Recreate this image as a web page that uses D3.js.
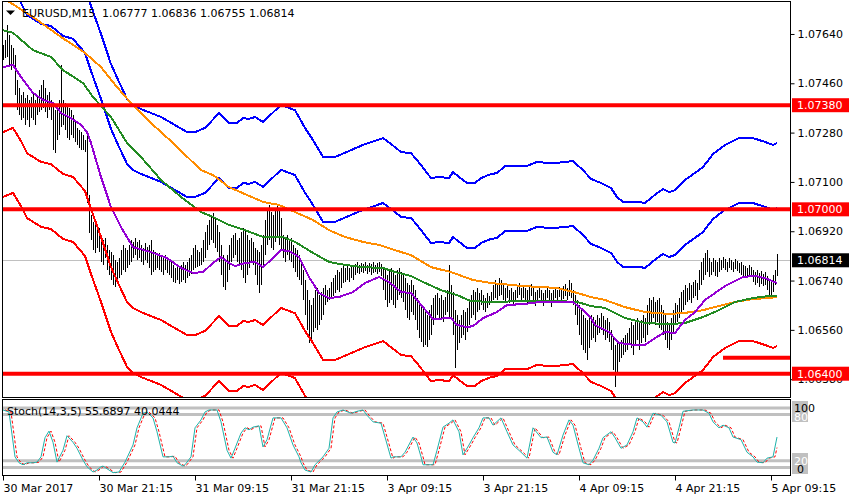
<!DOCTYPE html>
<html><head><meta charset="utf-8">
<script src="https://cdn.jsdelivr.net/npm/d3@7"></script>
<style>
body{margin:0;background:#fff}
svg{display:block}
text{font-family:"DejaVu Sans",sans-serif;font-size:11px}
</style>
</head><body>
<svg id="c" width="850" height="500"></svg>
<script>
// ---------------- DATA ----------------
const symbolTitle = "EURUSD,M15";
const ohlcTitle = "1.06777 1.06836 1.06755 1.06814";
const stochTitle = "Stoch(14,3,5) 55.6897 40.0444";
const priceTicks = [1.07640, 1.07460, 1.07280, 1.07100, 1.06920, 1.06740, 1.06560, 1.06380];
const timeLabels = ["30 Mar 2017","30 Mar 21:15","31 Mar 09:15","31 Mar 21:15","3 Apr 09:15","3 Apr 21:15","4 Apr 09:15","4 Apr 21:15","5 Apr 09:15"];
const timeLabelBars = [0, 48, 96, 144, 192, 240, 288, 336, 384];
const levelPrices = [1.07380, 1.07000, 1.06400];
const shortLevel = [360, 1.06458];   // [start bar, price]
const lastPrice = 1.06814;

const barHigh = [
1.07600,1.07618,1.07673,1.07636,1.07600,1.07589,1.07563,1.07472,1.07443,1.07417,
1.07428,1.07406,1.07417,1.07399,1.07410,1.07425,1.07399,1.07414,1.07435,1.07454,
1.07472,1.07443,1.07417,1.07428,1.07399,1.07381,1.07362,1.07370,1.07399,1.07527,
1.07399,1.07388,1.07381,1.07370,1.07362,1.07344,1.07326,1.07297,1.07289,1.07282,
1.07271,1.07253,1.07279,1.07052,1.06979,1.06954,1.06943,1.06924,1.06932,1.06906,
1.06888,1.06895,1.06870,1.06851,1.06844,1.06833,1.06815,1.06808,1.06822,1.06851,
1.06870,1.06859,1.06851,1.06870,1.06888,1.06881,1.06895,1.06881,1.06888,1.06870,
1.06859,1.06877,1.06862,1.06870,1.06888,1.06851,1.06844,1.06833,1.06841,1.06830,
1.06822,1.06833,1.06822,1.06815,1.06808,1.06797,1.06786,1.06793,1.06786,1.06797,
1.06808,1.06797,1.06808,1.06822,1.06833,1.06859,1.06870,1.06851,1.06844,1.06859,
1.06888,1.06917,1.06943,1.06961,1.06979,1.06987,1.06968,1.06943,1.06917,1.06870,
1.06833,1.06815,1.06833,1.06870,1.06895,1.06906,1.06914,1.06888,1.06895,1.06917,
1.06932,1.06924,1.06906,1.06888,1.06895,1.06881,1.06859,1.06851,1.06844,1.06870,
1.06906,1.06961,1.06997,1.07016,1.06990,1.06979,1.07005,1.07016,1.06997,1.06968,
1.06906,1.06895,1.06906,1.06888,1.06895,1.06870,1.06859,1.06851,1.06833,1.06815,
1.06778,1.06742,1.06705,1.06669,1.06651,1.06676,1.06705,1.06713,1.06687,1.06698,
1.06713,1.06724,1.06705,1.06713,1.06735,1.06749,1.06760,1.06778,1.06771,1.06786,
1.06793,1.06786,1.06793,1.06786,1.06797,1.06789,1.06800,1.06808,1.06797,1.06804,
1.06800,1.06808,1.06797,1.06804,1.06800,1.06808,1.06797,1.06804,1.06808,1.06800,
1.06786,1.06778,1.06760,1.06778,1.06786,1.06771,1.06760,1.06778,1.06786,1.06771,
1.06760,1.06749,1.06731,1.06724,1.06742,1.06724,1.06705,1.06676,1.06662,1.06651,
1.06640,1.06625,1.06614,1.06632,1.06651,1.06676,1.06687,1.06695,1.06676,1.06687,
1.06669,1.06680,1.06705,1.06797,1.06724,1.06698,1.06632,1.06614,1.06596,1.06614,
1.06632,1.06625,1.06640,1.06669,1.06687,1.06705,1.06698,1.06713,1.06695,1.06705,
1.06687,1.06676,1.06695,1.06684,1.06698,1.06724,1.06742,1.06731,1.06749,1.06742,
1.06724,1.06713,1.06724,1.06705,1.06713,1.06698,1.06705,1.06720,1.06731,1.06713,
1.06724,1.06713,1.06705,1.06720,1.06727,1.06713,1.06698,1.06705,1.06716,1.06705,
1.06695,1.06705,1.06716,1.06705,1.06695,1.06705,1.06713,1.06705,1.06716,1.06709,
1.06720,1.06727,1.06713,1.06742,1.06731,1.06705,1.06687,1.06669,1.06651,1.06632,
1.06614,1.06603,1.06596,1.06603,1.06614,1.06607,1.06596,1.06614,1.06603,1.06622,
1.06611,1.06596,1.06603,1.06589,1.06559,1.06530,1.06505,1.06523,1.06516,1.06523,
1.06530,1.06541,1.06549,1.06567,1.06589,1.06578,1.06596,1.06603,1.06589,1.06596,
1.06614,1.06603,1.06651,1.06676,1.06669,1.06680,1.06662,1.06669,1.06676,1.06651,
1.06632,1.06614,1.06589,1.06578,1.06603,1.06632,1.06658,1.06651,1.06676,1.06698,
1.06705,1.06724,1.06713,1.06731,1.06724,1.06735,1.06742,1.06731,1.06778,1.06808,
1.06822,1.06841,1.06851,1.06822,1.06808,1.06822,1.06815,1.06808,1.06822,1.06815,
1.06826,1.06819,1.06808,1.06822,1.06815,1.06808,1.06819,1.06811,1.06804,1.06808,
1.06797,1.06793,1.06786,1.06797,1.06789,1.06778,1.06771,1.06778,1.06768,1.06775,
1.06764,1.06771,1.06757,1.06742,1.06735,1.06760,1.06778,1.06836];

const barLow = [
1.07545,1.07552,1.07556,1.07527,1.07508,1.07516,1.07417,1.07362,1.07344,1.07326,
1.07333,1.07308,1.07326,1.07300,1.07333,1.07326,1.07308,1.07344,1.07355,1.07362,
1.07370,1.07355,1.07333,1.07362,1.07326,1.07216,1.07206,1.07253,1.07271,1.07300,
1.07308,1.07289,1.07260,1.07253,1.07271,1.07260,1.07246,1.07235,1.07224,1.07216,
1.07216,1.07209,1.07023,1.06914,1.06888,1.06851,1.06841,1.06859,1.06844,1.06808,
1.06797,1.06822,1.06778,1.06760,1.06742,1.06724,1.06716,1.06735,1.06749,1.06760,
1.06778,1.06771,1.06786,1.06797,1.06808,1.06822,1.06833,1.06815,1.06822,1.06808,
1.06797,1.06815,1.06804,1.06786,1.06760,1.06771,1.06778,1.06786,1.06778,1.06771,
1.06760,1.06778,1.06768,1.06760,1.06749,1.06735,1.06731,1.06742,1.06727,1.06735,
1.06742,1.06731,1.06749,1.06757,1.06764,1.06778,1.06786,1.06789,1.06793,1.06797,
1.06808,1.06822,1.06851,1.06870,1.06888,1.06877,1.06859,1.06844,1.06808,1.06760,
1.06716,1.06705,1.06735,1.06778,1.06808,1.06822,1.06833,1.06808,1.06797,1.06778,
1.06749,1.06731,1.06760,1.06786,1.06808,1.06797,1.06760,1.06724,1.06695,1.06724,
1.06786,1.06833,1.06870,1.06888,1.06859,1.06851,1.06881,1.06895,1.06870,1.06851,
1.06822,1.06808,1.06833,1.06815,1.06808,1.06786,1.06771,1.06753,1.06742,1.06724,
1.06669,1.06614,1.06559,1.06512,1.06523,1.06552,1.06567,1.06559,1.06578,1.06596,
1.06614,1.06651,1.06662,1.06669,1.06676,1.06684,1.06695,1.06705,1.06698,1.06713,
1.06731,1.06735,1.06742,1.06735,1.06749,1.06742,1.06760,1.06768,1.06764,1.06771,
1.06768,1.06775,1.06764,1.06771,1.06760,1.06768,1.06771,1.06764,1.06771,1.06757,
1.06705,1.06669,1.06643,1.06658,1.06669,1.06651,1.06640,1.06669,1.06687,1.06676,
1.06662,1.06632,1.06603,1.06596,1.06625,1.06614,1.06596,1.06559,1.06530,1.06516,
1.06497,1.06505,1.06497,1.06523,1.06541,1.06578,1.06603,1.06614,1.06596,1.06603,
1.06589,1.06614,1.06625,1.06607,1.06596,1.06541,1.06421,1.06486,1.06512,1.06530,
1.06541,1.06523,1.06552,1.06578,1.06603,1.06614,1.06596,1.06625,1.06632,1.06651,
1.06632,1.06625,1.06640,1.06651,1.06662,1.06669,1.06676,1.06669,1.06684,1.06687,
1.06669,1.06662,1.06676,1.06658,1.06669,1.06651,1.06662,1.06676,1.06687,1.06669,
1.06676,1.06662,1.06651,1.06669,1.06684,1.06669,1.06647,1.06658,1.06676,1.06662,
1.06647,1.06669,1.06676,1.06658,1.06643,1.06662,1.06676,1.06669,1.06680,1.06665,
1.06673,1.06684,1.06669,1.06684,1.06676,1.06651,1.06614,1.06578,1.06541,1.06505,
1.06486,1.06476,1.06450,1.06494,1.06523,1.06530,1.06516,1.06541,1.06549,1.06559,
1.06541,1.06523,1.06530,1.06516,1.06486,1.06413,1.06351,1.06395,1.06443,1.06457,
1.06468,1.06479,1.06486,1.06505,1.06494,1.06468,1.06505,1.06523,1.06486,1.06512,
1.06530,1.06516,1.06541,1.06578,1.06589,1.06603,1.06578,1.06589,1.06567,1.06559,
1.06541,1.06523,1.06494,1.06486,1.06523,1.06552,1.06578,1.06589,1.06603,1.06622,
1.06632,1.06651,1.06662,1.06669,1.06658,1.06676,1.06684,1.06669,1.06705,1.06724,
1.06742,1.06760,1.06771,1.06753,1.06760,1.06771,1.06757,1.06753,1.06771,1.06778,
1.06786,1.06778,1.06771,1.06786,1.06778,1.06771,1.06782,1.06775,1.06768,1.06760,
1.06753,1.06757,1.06749,1.06760,1.06753,1.06735,1.06724,1.06731,1.06716,1.06727,
1.06720,1.06724,1.06705,1.06684,1.06680,1.06698,1.06724,1.06755];

// moving averages: [bar index, price]
const orangeMA = [[0,1.07771],[4,1.07753],[15,1.07702],[29,1.07629],[41,1.07571],[49,1.07519],[57,1.07446],[64,1.07388],[74,1.07315],[85,1.07242],[99,1.07143],[105,1.07125],[113,1.07081],[130,1.07027],[138,1.07016],[146,1.06990],[155,1.06961],[163,1.06924],[171,1.06899],[180,1.06881],[188,1.06870],[196,1.06851],[204,1.06833],[214,1.06789],[224,1.06771],[235,1.06742],[244,1.06731],[260,1.06720],[277,1.06713],[287,1.06695],[294,1.06680],[301,1.06669],[311,1.06643],[321,1.06625],[333,1.06618],[341,1.06622],[350,1.06632],[358,1.06647],[366,1.06662],[375,1.06673],[383,1.06676],[387,1.06680]];
const greenMA = [[0,1.07654],[5,1.07644],[15,1.07581],[24,1.07556],[30,1.07508],[40,1.07461],[45,1.07410],[54,1.07337],[62,1.07242],[69,1.07191],[79,1.07107],[89,1.07045],[99,1.06990],[105,1.06972],[113,1.06943],[121,1.06924],[130,1.06899],[140,1.06899],[146,1.06881],[155,1.06841],[163,1.06808],[171,1.06797],[180,1.06789],[190,1.06786],[196,1.06771],[204,1.06757],[210,1.06735],[219,1.06705],[227,1.06687],[234,1.06665],[244,1.06662],[260,1.06665],[277,1.06665],[287,1.06662],[294,1.06647],[301,1.06640],[311,1.06603],[321,1.06585],[333,1.06581],[341,1.06585],[350,1.06607],[358,1.06632],[366,1.06662],[375,1.06676],[383,1.06684],[387,1.06684]];
const purpleMA = [[0,1.07519],[5,1.07527],[9,1.07483],[15,1.07425],[20,1.07399],[25,1.07388],[29,1.07352],[34,1.07333],[39,1.07308],[42,1.07282],[44,1.07242],[49,1.07118],[54,1.07008],[59,1.06935],[65,1.06862],[74,1.06844],[82,1.06822],[89,1.06786],[95,1.06768],[100,1.06771],[105,1.06804],[109,1.06826],[113,1.06804],[116,1.06793],[121,1.06804],[126,1.06808],[130,1.06789],[135,1.06822],[139,1.06851],[143,1.06848],[148,1.06826],[153,1.06753],[158,1.06695],[163,1.06676],[168,1.06680],[175,1.06698],[181,1.06731],[188,1.06753],[193,1.06735],[199,1.06698],[204,1.06695],[210,1.06643],[215,1.06600],[224,1.06603],[227,1.06578],[232,1.06570],[235,1.06574],[240,1.06603],[247,1.06625],[252,1.06651],[260,1.06654],[269,1.06662],[277,1.06662],[285,1.06662],[290,1.06632],[294,1.06603],[296,1.06578],[303,1.06552],[308,1.06512],[316,1.06505],[321,1.06505],[326,1.06530],[331,1.06552],[336,1.06549],[341,1.06596],[346,1.06625],[351,1.06669],[361,1.06720],[370,1.06753],[376,1.06757],[381,1.06749],[387,1.06731]];
// envelope centre line and deviations (price)
const envelopeBase = [[0,1.07534],[5,1.07549],[9,1.07501],[12,1.07457],[19,1.07425],[24,1.07417],[30,1.07381],[35,1.07370],[41,1.07319],[44,1.07253],[49,1.07151],[54,1.07041],[58,1.06976],[62,1.06914],[65,1.06892],[69,1.06877],[79,1.06848],[92,1.06793],[96,1.06793],[101,1.06808],[108,1.06862],[113,1.06826],[117,1.06826],[120,1.06844],[123,1.06841],[126,1.06848],[130,1.06830],[139,1.06892],[146,1.06873],[151,1.06808],[155,1.06764],[160,1.06702],[166,1.06702],[180,1.06746],[190,1.06771],[196,1.06738],[199,1.06720],[204,1.06716],[207,1.06691],[214,1.06625],[218,1.06629],[223,1.06625],[225,1.06647],[230,1.06618],[232,1.06607],[236,1.06607],[239,1.06625],[244,1.06640],[247,1.06643],[251,1.06669],[262,1.06669],[267,1.06684],[273,1.06680],[276,1.06680],[285,1.06687],[290,1.06654],[294,1.06622],[299,1.06607],[304,1.06589],[307,1.06556],[310,1.06538],[318,1.06538],[321,1.06534],[327,1.06570],[330,1.06585],[333,1.06574],[336,1.06581],[341,1.06618],[350,1.06665],[355,1.06713],[361,1.06746],[368,1.06771],[375,1.06771],[381,1.06757],[385,1.06746],[387,1.06753]];
const envInner = 0.00252;
const envOuter = 0.00489;

// stochastic %K: [bar index, value]
const stochK = [[0,97],[3,94],[6,26],[8,17],[10,14],[12,17],[15,17],[17,18],[19,26],[21,55],[23,65],[25,48],[27,18],[30,36],[32,58],[35,48],[37,39],[40,21],[42,11],[45,3],[47,6],[49,11],[50,12],[53,6],[55,2],[58,3],[61,18],[65,44],[67,70],[70,92],[72,94],[75,85],[77,64],[80,26],[83,26],[85,27],[87,17],[90,12],[91,14],[94,26],[96,70],[99,82],[101,94],[103,97],[105,97],[107,97],[109,79],[112,36],[114,24],[116,39],[119,62],[121,70],[123,67],[125,71],[128,73],[130,41],[132,52],[135,85],[139,85],[142,70],[145,44],[148,26],[149,17],[151,6],[154,3],[156,14],[160,26],[163,39],[165,85],[167,94],[170,97],[174,92],[177,95],[180,97],[182,89],[185,79],[189,77],[191,56],[194,24],[195,26],[199,26],[201,33],[205,56],[207,47],[209,26],[210,14],[215,14],[217,36],[220,71],[223,77],[225,82],[228,64],[230,29],[233,44],[235,55],[238,70],[240,85],[243,85],[245,74],[249,85],[252,64],[255,44],[259,33],[262,24],[265,70],[269,55],[272,56],[275,33],[277,29],[280,59],[283,82],[285,74],[288,39],[290,17],[293,14],[295,21],[298,39],[300,55],[304,64],[306,55],[309,39],[312,44],[315,64],[317,85],[320,79],[322,71],[325,92],[329,89],[332,79],[335,48],[336,47],[338,70],[340,95],[345,97],[350,97],[353,92],[355,79],[358,70],[360,74],[363,70],[365,56],[369,52],[372,33],[375,26],[377,18],[380,17],[382,24],[385,26],[387,56]];
const stochLastSignal = 40.0444;
const stochLevels = [100, 90, 20, 10];

// ---------------- DRAW ----------------
const svg = d3.select("#c");
const nBars = Math.min(barHigh.length, barLow.length);
const x = d3.scaleLinear().domain([0, 387]).range([3, 777]);
const y = d3.scaleLinear().domain([1.06315, 1.07764]).range([397, 0]);
const ys = d3.scaleLinear().domain([0, 100]).range([474, 408]);

const defs = svg.append("defs");
defs.append("clipPath").attr("id","cm").append("rect").attr("x",3).attr("y",2).attr("width",787).attr("height",395);
defs.append("clipPath").attr("id","cs").append("rect").attr("x",3).attr("y",400).attr("width",787).attr("height",75);

const main = svg.append("g").attr("clip-path","url(#cm)");

// last price line
main.append("line").attr("x1",3).attr("x2",790).attr("y1",Math.round(y(lastPrice))+0.5).attr("y2",Math.round(y(lastPrice))+0.5)
  .attr("stroke","#c0c0c0").attr("stroke-width",1);

// bars
main.append("g").selectAll("line").data(d3.range(nBars)).join("line")
  .attr("x1", i => Math.round(x(i))+0.5).attr("x2", i => Math.round(x(i))+0.5)
  .attr("y1", i => y(barHigh[i])).attr("y2", i => y(barLow[i]))
  .attr("stroke","#000").attr("stroke-width",1).attr("shape-rendering","crispEdges");

const line = d3.line().x(d => x(d[0])).y(d => y(d[1]));
function drawLine(data, color, w){
  main.append("path").datum(data).attr("d", line).attr("fill","none")
    .attr("stroke", color).attr("stroke-width", w).attr("stroke-linejoin","round")
    .attr("shape-rendering","crispEdges");
}
drawLine(envelopeBase.map(d => [d[0], d[1] + envOuter]), "#0000ff", 2);
drawLine(envelopeBase.map(d => [d[0], d[1] + envInner]), "#0000ff", 2);
drawLine(envelopeBase.map(d => [d[0], d[1] - envInner]), "#ff0000", 2);
drawLine(envelopeBase.map(d => [d[0], d[1] - envOuter]), "#ff0000", 2);
drawLine(orangeMA, "#ff8c00", 2);
drawLine(greenMA, "#228b22", 2);
drawLine(purpleMA, "#9400d3", 2);

// horizontal level lines
main.selectAll("line.lvl").data(levelPrices).join("line").attr("class","lvl")
  .attr("x1",3).attr("x2",790).attr("y1",d=>y(d)).attr("y2",d=>y(d))
  .attr("stroke","#ff0000").attr("stroke-width",4);
main.append("line").attr("x1",x(shortLevel[0])).attr("x2",790).attr("y1",y(shortLevel[1])).attr("y2",y(shortLevel[1]))
  .attr("stroke","#ff0000").attr("stroke-width",4);

// panel borders
svg.append("rect").attr("x",2.5).attr("y",1.5).attr("width",788).attr("height",396).attr("fill","none").attr("stroke","#000");
svg.append("rect").attr("x",2.5).attr("y",399.5).attr("width",788).attr("height",76).attr("fill","none").attr("stroke","#000");

// right price axis
const ay = svg.append("g").attr("transform","translate(790.5,0)")
  .call(d3.axisRight(y).tickValues(priceTicks).tickSize(4).tickPadding(3).tickFormat(d3.format(".5f")));
ay.select(".domain").remove();
ay.selectAll("text").attr("font-family","DejaVu Sans").attr("font-size",11).attr("fill","#000");
ay.selectAll("line").attr("stroke","#000");

// level price boxes
function priceBox(p, bg){
  const yy = y(p);
  svg.append("rect").attr("x",792).attr("y",yy-7).attr("width",57).attr("height",14).attr("fill",bg);
  svg.append("text").attr("x",797).attr("y",yy).attr("dy","0.36em").attr("fill","#fff").text(d3.format(".5f")(p));
}
levelPrices.forEach(p => priceBox(p, "#ff0000"));
priceBox(lastPrice, "#000");

// titles
svg.append("path").attr("d","M6,10.5L15,10.5L10.5,15Z").attr("fill","#000");
svg.append("text").attr("x",22).attr("y",17).attr("fill","#000").text(symbolTitle);
svg.append("text").attr("x",102).attr("y",17).attr("fill","#000").text(ohlcTitle);

// stochastic panel
const st = svg.append("g").attr("clip-path","url(#cs)");
st.selectAll("line.sl").data(stochLevels).join("line").attr("class","sl")
  .attr("x1",3).attr("x2",790).attr("y1",d=>ys(d)).attr("y2",d=>ys(d))
  .attr("stroke","#c0c0c0").attr("stroke-width",3);
const sline = d3.line().x(d => x(d[0])).y(d => ys(d[1]));
const stochD = stochK.filter(d => d[0] + 1 < 387).map(d => [d[0] + 1, d[1]]).concat([[387, stochLastSignal]]);
st.append("path").datum(stochD).attr("d", sline).attr("fill","none").attr("stroke","#ff0000").attr("stroke-width",1).attr("stroke-dasharray","3,2");
st.append("path").datum(stochK).attr("d", sline).attr("fill","none").attr("stroke","#20b2aa").attr("stroke-width",1);
svg.append("text").attr("x",7).attr("y",415).attr("fill","#000").text(stochTitle);

// stoch scale labels
svg.append("rect").attr("x",792).attr("y",401).attr("width",16).attr("height",21).attr("fill","#c0c0c0");
svg.append("rect").attr("x",792).attr("y",453).attr("width",16).attr("height",21).attr("fill","#c0c0c0");
svg.append("text").attr("x",794).attr("y",ys(87)).attr("dy","0.36em").attr("fill","#fff").text("80");
svg.append("text").attr("x",794).attr("y",ys(20)).attr("dy","0.36em").attr("fill","#fff").text("20");
svg.append("text").attr("x",794).attr("y",ys(100)).attr("dy","0.36em").attr("fill","#000").text("100");
svg.append("text").attr("x",797).attr("y",ys(8)).attr("dy","0.36em").attr("fill","#000").text("0");

// time axis
const ax = svg.append("g").attr("transform","translate(0,475.5)")
  .call(d3.axisBottom(x).tickValues(timeLabelBars).tickSize(5).tickPadding(4).tickFormat((d,i) => timeLabels[i]));
ax.select(".domain").remove();
ax.selectAll("text").attr("font-family","DejaVu Sans").attr("font-size",11).attr("fill","#000").attr("text-anchor","start");
ax.selectAll("line").attr("stroke","#000");
</script>
</body></html>
